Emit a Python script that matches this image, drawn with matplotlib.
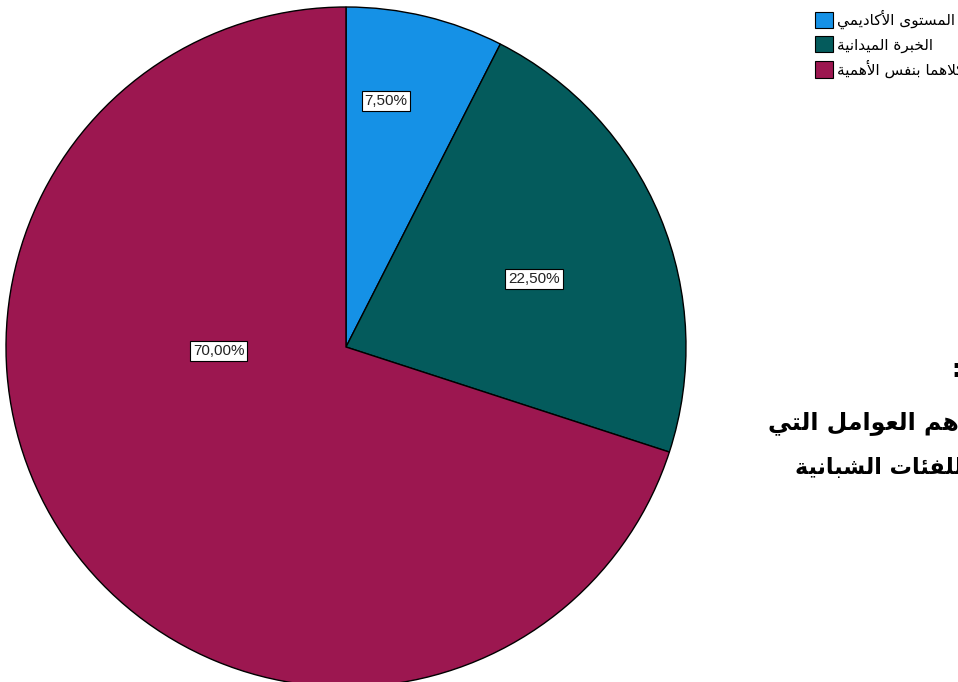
import matplotlib
matplotlib.use("Agg")
import matplotlib.pyplot as plt
from matplotlib.patches import Patch

# ---------------- data ----------------
categories = ["المستوى الأكاديمي", "الخبرة الميدانية", "كلاهما بنفس الأهمية"]
values = [7.5, 22.5, 70.0]
colors = ["#1591e6", "#045b5c", "#9c1750"]
pct_labels = ["7,50%", "22,50%", "70,00%"]
label_xy = [(0.118, 0.724), (0.553, 0.20), (-0.374, -0.012)]
side_lines = [":", "أهم العوامل التي", "للفئات الشبانية"]

# ---------------- minimal Arabic shaping ----------------
# letter: (isolated, final, initial, medial) ; None for non-left-joining
FORMS = {
    'ا': (0xFE8D, 0xFE8E, None, None),
    'أ': (0xFE83, 0xFE84, None, None),
    'ب': (0xFE8F, 0xFE90, 0xFE91, 0xFE92),
    'ة': (0xFE93, 0xFE94, None, None),
    'ت': (0xFE95, 0xFE96, 0xFE97, 0xFE98),
    'خ': (0xFEA5, 0xFEA6, 0xFEA7, 0xFEA8),
    'د': (0xFEA9, 0xFEAA, None, None),
    'ر': (0xFEAD, 0xFEAE, None, None),
    'س': (0xFEB1, 0xFEB2, 0xFEB3, 0xFEB4),
    'ش': (0xFEB5, 0xFEB6, 0xFEB7, 0xFEB8),
    'ع': (0xFEC9, 0xFECA, 0xFECB, 0xFECC),
    'ف': (0xFED1, 0xFED2, 0xFED3, 0xFED4),
    'ك': (0xFED9, 0xFEDA, 0xFEDB, 0xFEDC),
    'ل': (0xFEDD, 0xFEDE, 0xFEDF, 0xFEE0),
    'م': (0xFEE1, 0xFEE2, 0xFEE3, 0xFEE4),
    'ن': (0xFEE5, 0xFEE6, 0xFEE7, 0xFEE8),
    'ه': (0xFEE9, 0xFEEA, 0xFEEB, 0xFEEC),
    'و': (0xFEED, 0xFEEE, None, None),
    'ى': (0xFEEF, 0xFEF0, None, None),
    'ي': (0xFEF1, 0xFEF2, 0xFEF3, 0xFEF4),
    'ئ': (0xFE89, 0xFE8A, 0xFE8B, 0xFE8C),
    'LA': (0xFEFB, 0xFEFC, None, None),
    'LAH': (0xFEF7, 0xFEF8, None, None),
}


def shape(text):
    toks = []
    i = 0
    while i < len(text):
        c = text[i]
        if c == 'ل' and i + 1 < len(text) and text[i + 1] in 'اأ':
            toks.append('LA' if text[i + 1] == 'ا' else 'LAH')
            i += 2
        else:
            toks.append(c)
            i += 1
    out = []
    for k, t in enumerate(toks):
        if t not in FORMS:
            out.append(t)
            continue
        f = FORMS[t]
        prev = toks[k - 1] if k > 0 else None
        nxt = toks[k + 1] if k + 1 < len(toks) else None
        join_prev = prev in FORMS and FORMS[prev][2] is not None
        join_next = nxt in FORMS and f[2] is not None
        if join_prev and join_next:
            cp = f[3]
        elif join_prev:
            cp = f[1]
        elif join_next:
            cp = f[2]
        else:
            cp = f[0]
        out.append(chr(cp))
    return ''.join(out)[::-1]


# ---------------- figure ----------------
W, H = 958, 682
fig = plt.figure(figsize=(W / 100, H / 100), dpi=100)
fig.patch.set_facecolor("white")

cx, cy, r = 346, 347, 340
ax = fig.add_axes([(cx - r) / W, (H - cy - r) / H, 2 * r / W, 2 * r / H])
wedges, _ = ax.pie(values, colors=colors, startangle=90, counterclock=False,
                   wedgeprops=dict(edgecolor="black", linewidth=1.0))
ax.set_xlim(-1, 1)
ax.set_ylim(-1, 1)
ax.set_aspect("equal")
ax.axis("off")

for lab, (x, y) in zip(pct_labels, label_xy):
    ax.text(x, y, lab, ha="center", va="center", fontsize=11,
            family="Liberation Sans", color="#222222",
            bbox=dict(boxstyle="square,pad=0.18", fc="white", ec="black", lw=0.8))

handles = [Patch(facecolor=c, edgecolor="black", linewidth=0.8) for c in colors]
fig.legend(handles, [shape(c) for c in categories], loc="upper left",
           bbox_to_anchor=(809 / W, 1 - 4 / H), frameon=False,
           handlelength=1.15, handleheight=1.25,
           handletextpad=0.3, labelspacing=0.45, borderaxespad=0,
           prop={"family": "DejaVu Sans", "size": 11})

# side text (cut at the right edge, as in the reference)
fig.text(951 / W, 1 - 370 / H, side_lines[0], ha="left", va="center",
         fontsize=17, fontweight="bold", family="DejaVu Sans")
fig.text(768 / W, 1 - 420 / H, shape(side_lines[1]), ha="left", va="center",
         fontsize=17, fontweight="bold", family="DejaVu Sans")
fig.text(795 / W, 1 - 467 / H, shape(side_lines[2]), ha="left", va="center",
         fontsize=16, fontweight="bold", family="DejaVu Sans")

fig.savefig("out.png", dpi=100, facecolor="white")
